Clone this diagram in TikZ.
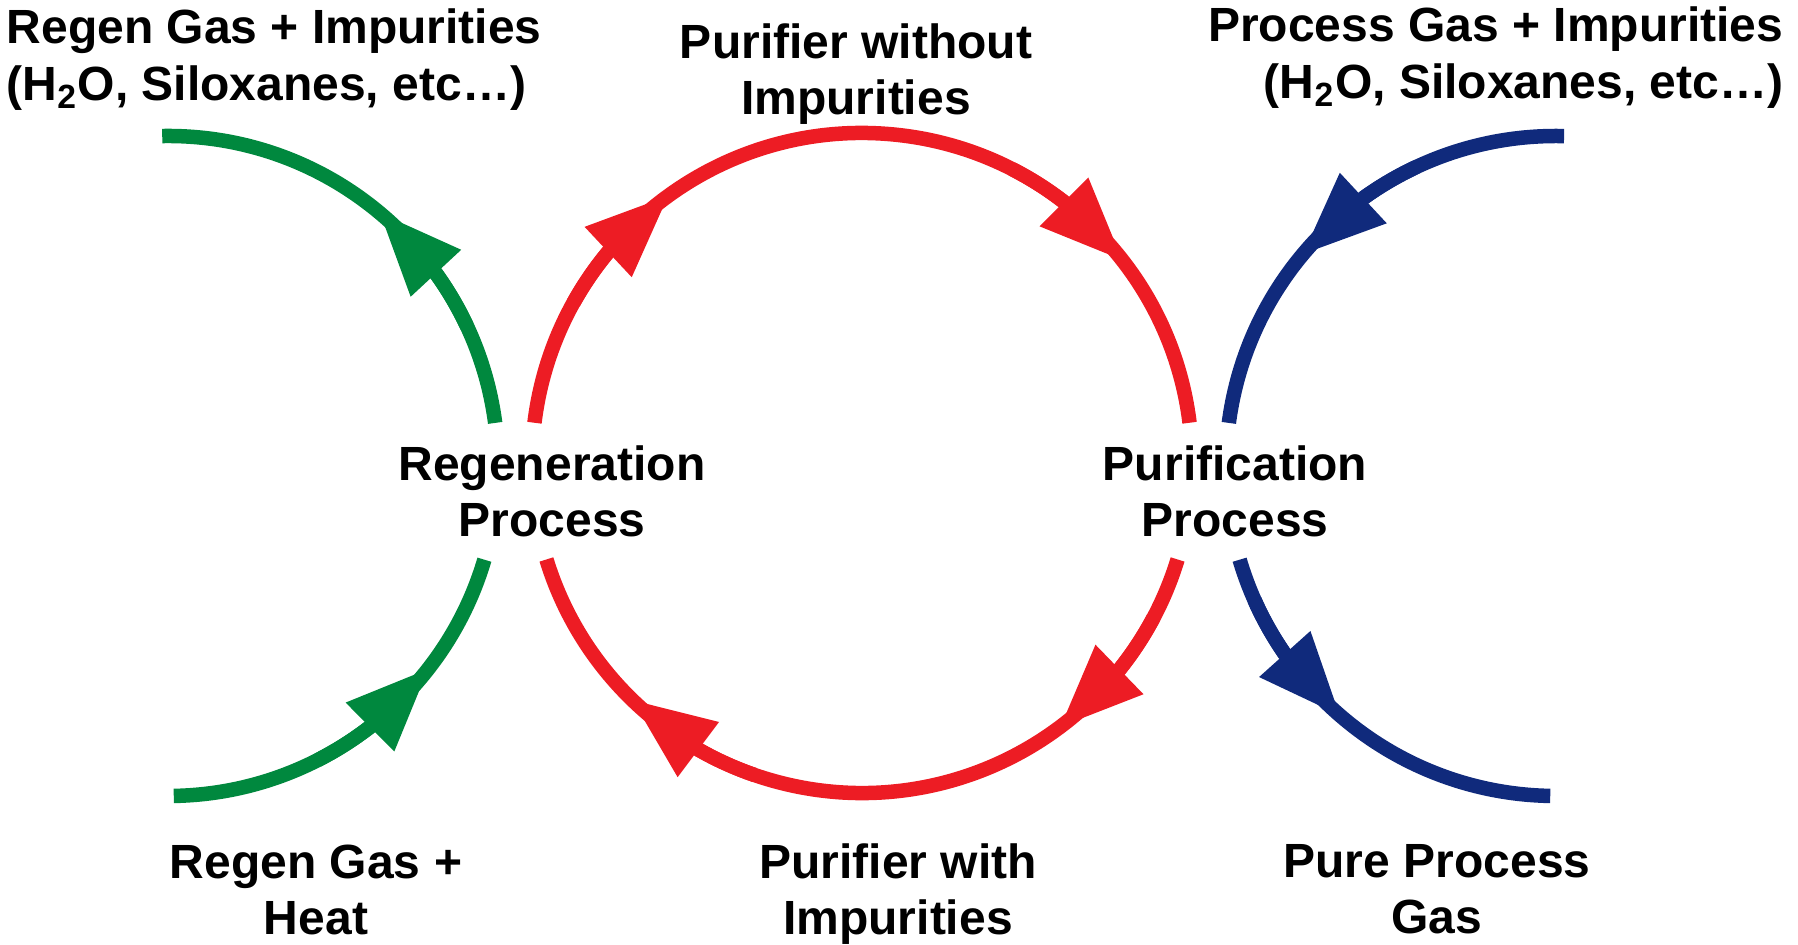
\documentclass[tikz,border=0pt]{standalone}
\usepackage{fontspec}
\setmainfont{Liberation Sans}
\usetikzlibrary{arrows.meta, bending}

\definecolor{regengreen}{RGB}{0,136,62}
\definecolor{loopred}{RGB}{237,28,36}
\definecolor{procblue}{RGB}{16,42,124}

\tikzset{
  flow/.style={line width=1.45mm},
  head/.style={-{Triangle[length=8.2mm, width=6.9mm, line width=0pt]}},
  txt/.style={font=\bfseries\fontsize{13.66}{16.2}\selectfont, inner sep=0pt},
}

\begin{document}
\begin{tikzpicture}
\useasboundingbox (0,0) rectangle (17.98,9.45);
\coordinate (regen) at (1.68,4.79);
\coordinate (loop) at (8.62,4.82);
\coordinate (purif) at (15.56,4.79);

\draw[flow, regengreen] ([shift={(7.5:3.3)}]regen) arc[start angle=7.5, end angle=91, radius=3.3];
\draw[flow, regengreen] ([shift={(-89:3.3)}]regen) arc[start angle=-89, end angle=-16.5, radius=3.3];
\draw[flow, regengreen, head] ([shift={(25:3.3)}]regen) arc[start angle=25, end angle=50, radius=3.3];
\draw[flow, regengreen, head] ([shift={(-63:3.3)}]regen) arc[start angle=-63, end angle=-38, radius=3.3];

\draw[flow, loopred] ([shift={(173:3.3)}]loop) arc[start angle=173, end angle=7, radius=3.3];
\draw[flow, loopred] ([shift={(-17:3.3)}]loop) arc[start angle=-17, end angle=-163, radius=3.3];
\draw[flow, loopred, head] ([shift={(151:3.3)}]loop) arc[start angle=151, end angle=126, radius=3.3];
\draw[flow, loopred, head] ([shift={(63:3.3)}]loop) arc[start angle=63, end angle=38, radius=3.3];
\draw[flow, loopred, head] ([shift={(-28:3.3)}]loop) arc[start angle=-28, end angle=-53, radius=3.3];
\draw[flow, loopred, head] ([shift={(-109:3.3)}]loop) arc[start angle=-109, end angle=-134, radius=3.3];

\draw[flow, procblue] ([shift={(88.6:3.3)}]purif) arc[start angle=88.6, end angle=172.5, radius=3.3];
\draw[flow, procblue] ([shift={(196.5:3.3)}]purif) arc[start angle=196.5, end angle=269, radius=3.3];
\draw[flow, procblue, head] ([shift={(115:3.3)}]purif) arc[start angle=115, end angle=140, radius=3.3];
\draw[flow, procblue, head] ([shift={(204:3.3)}]purif) arc[start angle=204, end angle=229, radius=3.3];

\node[txt, align=left, anchor=base west] (regenout) at (0.06,8.445) {Regen Gas + Impurities\\(H\textsubscript{2}O, Siloxanes, etc…)};
\node[txt, align=center, anchor=base] (clean) at (8.56,8.30) {Purifier without\\Impurities};
\node[txt, align=right, anchor=base east] (procin) at (17.84,8.465) {Process Gas + Impurities\\(H\textsubscript{2}O, Siloxanes, etc…)};

\node[txt, align=center, anchor=base] (regenproc) at (5.52,4.08) {Regeneration\\Process};
\node[txt, align=center, anchor=base] (purifproc) at (12.35,4.08) {Purification\\Process};

\node[txt, align=center, anchor=base] (regenin) at (3.16,0.10) {Regen Gas +\\Heat};
\node[txt, align=center, anchor=base] (dirty) at (8.98,0.10) {Purifier with\\Impurities};
\node[txt, align=center, anchor=base] (procout) at (14.37,0.11) {Pure Process\\Gas};
\end{tikzpicture}
\end{document}
